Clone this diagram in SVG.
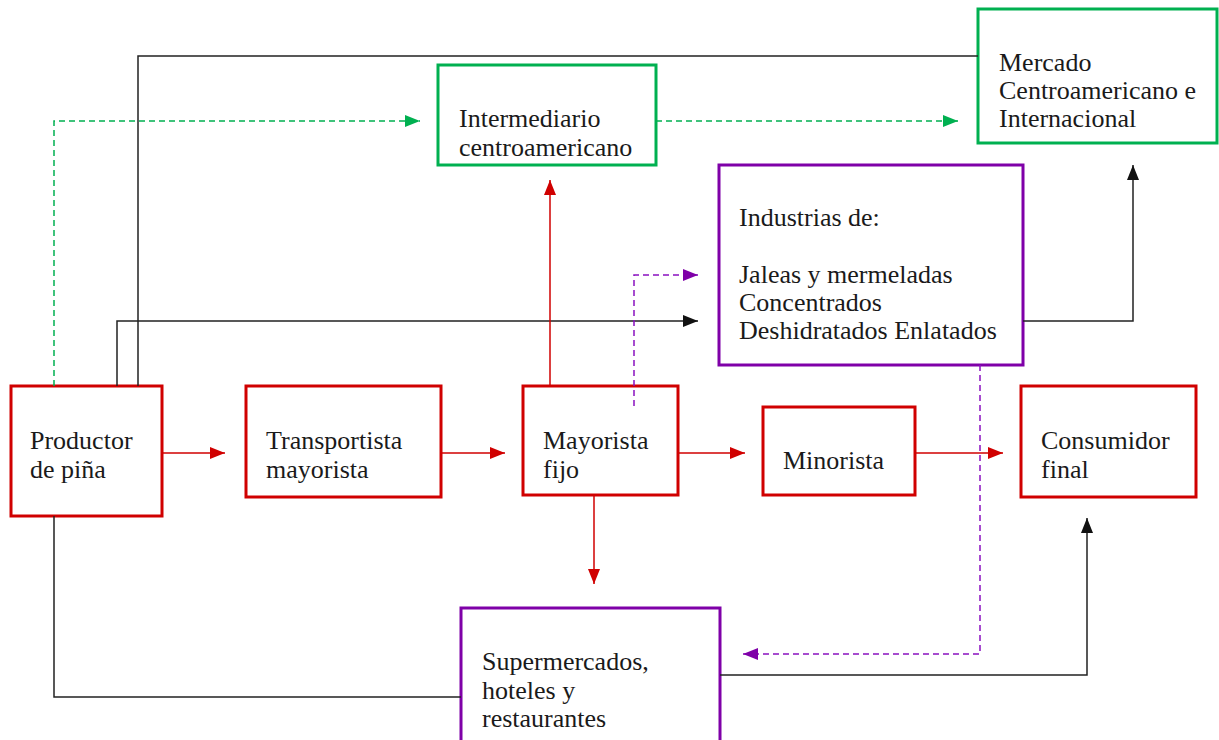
<svg xmlns="http://www.w3.org/2000/svg" width="1219" height="740" viewBox="0 0 1219 740">
<style>
.box{fill:#fff;stroke-width:3}
.red{stroke:#d00000}
.green{stroke:#00b050}
.purple{stroke:#7f00a8}
text{font-family:"Liberation Serif","Times New Roman",serif;font-size:26px;fill:#1a1a1a}
.c{fill:none;stroke-width:1.5}
.cb{stroke:#222}
.cr{stroke:#d00000}
.cg{stroke:#00b050;stroke-dasharray:6 4}
.cp{stroke:#8a10c0;stroke-dasharray:6 4}
</style>
<defs>
<marker id="ar" markerUnits="userSpaceOnUse" markerWidth="16" markerHeight="12" refX="15" refY="6" orient="auto"><path d="M0,0 L15,6 L0,12 z" fill="#d00000"/></marker>
<marker id="ab" markerUnits="userSpaceOnUse" markerWidth="16" markerHeight="12" refX="15" refY="6" orient="auto"><path d="M0,0 L15,6 L0,12 z" fill="#111"/></marker>
<marker id="ag" markerUnits="userSpaceOnUse" markerWidth="16" markerHeight="12" refX="15" refY="6" orient="auto"><path d="M0,0 L15,6 L0,12 z" fill="#00b050"/></marker>
<marker id="ap" markerUnits="userSpaceOnUse" markerWidth="16" markerHeight="12" refX="15" refY="6" orient="auto"><path d="M0,0 L15,6 L0,12 z" fill="#7f00a8"/></marker>
</defs>
<rect width="1219" height="740" fill="#fff"/>
<g id="productor"><rect class="box red" x="11" y="386" width="151" height="130"/><text x="30" y="449">Productor</text><text x="30" y="478">de piña</text></g>
<g id="transportista"><rect class="box red" x="246" y="386" width="195" height="111"/><text x="266" y="449">Transportista</text><text x="266" y="478">mayorista</text></g>
<g id="mayorista"><rect class="box red" x="523" y="386" width="155" height="109"/><text x="543" y="449">Mayorista</text><text x="543" y="478">fijo</text></g>
<g id="minorista"><rect class="box red" x="763" y="407" width="152" height="88"/><text x="783" y="469">Minorista</text></g>
<g id="consumidor"><rect class="box red" x="1021" y="386" width="175" height="111"/><text x="1041" y="449">Consumidor</text><text x="1041" y="478">final</text></g>
<g id="intermediario"><rect class="box green" x="438" y="65" width="218" height="100"/><text x="459" y="127">Intermediario</text><text x="459" y="156">centroamericano</text></g>
<g id="mercado"><rect class="box green" x="978" y="9" width="239" height="134"/><text x="999" y="71">Mercado</text><text x="999" y="99">Centroamericano e</text><text x="999" y="127">Internacional</text></g>
<g id="industrias"><rect class="box purple" x="719" y="165" width="304" height="200"/><text x="739" y="226">Industrias de:</text><text x="739" y="283">Jaleas y mermeladas</text><text x="739" y="311">Concentrados</text><text x="739" y="339">Deshidratados Enlatados</text></g>
<g id="supermercados"><rect class="box purple" x="461" y="608" width="259" height="140"/><text x="482" y="670">Supermercados,</text><text x="482" y="699">hoteles y</text><text x="482" y="727">restaurantes</text></g>
<g id="connectors">
<path class="c cb" d="M138,386 V56 H978"/>
<path class="c cb" d="M117,386 V321 H698" marker-end="url(#ab)"/>
<path class="c cb" d="M1023,321 H1133 V165" marker-end="url(#ab)"/>
<path class="c cb" d="M54,516 V697 H461"/>
<path class="c cb" d="M720,675 H1087 V518" marker-end="url(#ab)"/>
<path class="c cg" d="M54,386 V121 H420" marker-end="url(#ag)"/>
<path class="c cg" d="M656,121 H958" marker-end="url(#ag)"/>
<path class="c cr" d="M162,453 H225" marker-end="url(#ar)"/>
<path class="c cr" d="M441,453 H505" marker-end="url(#ar)"/>
<path class="c cr" d="M678,453 H745" marker-end="url(#ar)"/>
<path class="c cr" d="M915,453 H1003" marker-end="url(#ar)"/>
<path class="c cr" d="M550,386 V180" marker-end="url(#ar)"/>
<path class="c cr" d="M594,495 V584" marker-end="url(#ar)"/>
<path class="c cp" d="M634,406 V275 H698" marker-end="url(#ap)"/>
<path class="c cp" d="M980,365 V654 H743" marker-end="url(#ap)"/>
</g>
</svg>
